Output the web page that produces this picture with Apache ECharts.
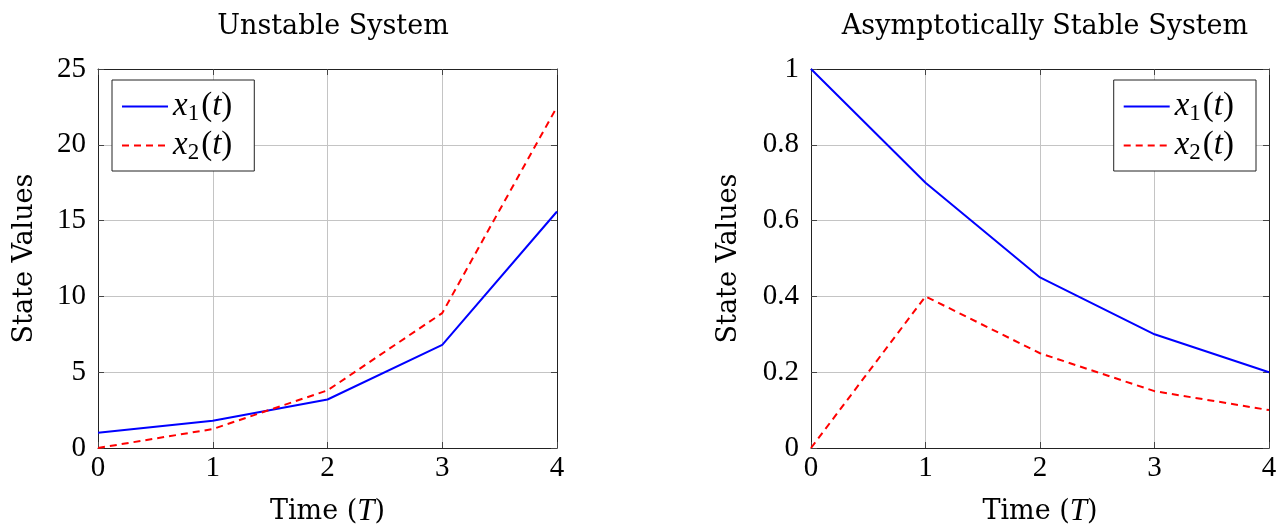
<!DOCTYPE html>
<html>
<head>
<meta charset="utf-8">
<script src="https://cdn.jsdelivr.net/npm/echarts@6/dist/echarts.min.js"></script>
<style>
  html, body { margin: 0; padding: 0; background: #fff; }
  #chart { width: 1287px; height: 532px; }
</style>
</head>
<body>
<div id="chart"></div>
<script>
// time steps
var timeSteps = [0, 1, 2, 3, 4];
// unstable system
var unstableX1 = [1.0, 1.8, 3.2, 6.8, 15.6];
var unstableX2 = [0.0, 1.25, 3.8, 8.9, 22.5];
// asymptotically stable system
var stableX1 = [1.0, 0.7, 0.45, 0.3, 0.2];
var stableX2 = [0.0, 0.4, 0.25, 0.15, 0.1];

var titles = ['Unstable System', 'Asymptotically Stable System'];

var TEXT_FONT = 'DejaVu Serif';
var NUM_FONT = 'Liberation Serif';

function pairs(xs, ys) {
    var out = [];
    for (var i = 0; i < xs.length; i++) out.push([xs[i], ys[i]]);
    return out;
}

var rich = {
    it: { fontFamily: NUM_FONT, fontStyle: 'italic', fontSize: 33, color: '#000', lineHeight: 34 },
    n: { fontFamily: NUM_FONT, fontSize: 33, color: '#000', lineHeight: 34 },
    sub: { fontFamily: NUM_FONT, fontSize: 23, color: '#000', lineHeight: 20, padding: [14, 2, 0, 0] },
    tn: { fontFamily: TEXT_FONT, fontSize: 27, color: '#000' },
    ti: { fontFamily: NUM_FONT, fontStyle: 'italic', fontSize: 31, color: '#000' }
};

var grids = [
    { left: 98, top: 69, width: 459, height: 379, outerBoundsMode: 'none', containLabel: false },
    { left: 811, top: 69, width: 458, height: 379, outerBoundsMode: 'none', containLabel: false }
];

function xAx(idx, top) {
    return {
        type: 'value', gridIndex: idx, min: 0, max: 4, interval: 1,
        position: top ? 'top' : 'bottom',
        name: top ? '' : '{tn|Time (}{ti|T}{tn|)}',
        nameLocation: 'middle', nameGap: 48,
        nameTextStyle: { rich: rich },
        axisLine: { show: true, onZero: false, lineStyle: { color: '#222', width: 1 } },
        axisTick: { show: true, inside: true, length: 6, lineStyle: { color: '#444' } },
        axisLabel: { show: !top, color: '#000', fontFamily: NUM_FONT, fontSize: 29, margin: 6 },
        splitLine: { show: !top, lineStyle: { color: '#c4c4c4', width: 1 } }
    };
}

function yAx(idx, max, interval, right, gap) {
    return {
        type: 'value', gridIndex: idx, min: 0, max: max, interval: interval,
        position: right ? 'right' : 'left',
        name: right ? '' : 'State Values',
        nameLocation: 'middle', nameGap: gap,
        nameTextStyle: { color: '#000', fontFamily: TEXT_FONT, fontSize: 27 },
        axisLine: { show: true, onZero: false, lineStyle: { color: '#222', width: 1 } },
        axisTick: { show: true, inside: true, length: 6, lineStyle: { color: '#444' } },
        axisLabel: { show: !right, color: '#000', fontFamily: NUM_FONT, fontSize: 29, margin: 12 },
        splitLine: { show: !right, lineStyle: { color: '#c4c4c4', width: 1 } }
    };
}

function lineSeries(name, idx, data, dashed) {
    return {
        name: name, type: 'line', xAxisIndex: idx * 2, yAxisIndex: idx * 2,
        data: data, symbol: 'none', animation: false,
        lineStyle: {
            color: dashed ? '#ff0000' : '#0000ff', width: 2,
            type: dashed ? [7, 5] : 'solid'
        },
        itemStyle: { color: dashed ? '#ff0000' : '#0000ff' }
    };
}

function legendLabel(name) {
    return name.trim() === 'x1' ? '{it|x}{sub|1}{n|(}{it|t}{n|)}' : '{it|x}{sub|2}{n|(}{it|t}{n|)}';
}

function legend(pos) {
    return Object.assign({
        orient: 'vertical', top: 80,
        backgroundColor: '#fff', borderColor: '#222', borderWidth: 1,
        padding: [8, 22, 7, 9], itemGap: 2, itemWidth: 46, itemHeight: 14,
        itemStyle: { opacity: 0 },
        textStyle: { rich: rich, fontFamily: NUM_FONT, fontSize: 33 },
        formatter: legendLabel
    }, pos);
}

var myChart = echarts.init(document.getElementById('chart'));
var option = {
    animation: false,
    title: [
        { text: titles[0], left: 328, top: 8, textAlign: 'center',
          textStyle: { fontFamily: TEXT_FONT, fontSize: 27, fontWeight: 'normal', color: '#000' } },
        { text: titles[1], left: 1040, top: 8, textAlign: 'center',
          textStyle: { fontFamily: TEXT_FONT, fontSize: 27, fontWeight: 'normal', color: '#000' } }
    ],
    grid: grids,
    xAxis: [xAx(0, false), xAx(0, true), xAx(1, false), xAx(1, true)],
    yAxis: [yAx(0, 25, 5, false, 60), yAx(0, 25, 5, true, 0),
            yAx(1, 1, 0.2, false, 69), yAx(1, 1, 0.2, true, 0)],
    legend: [
        legend({ left: 112, data: ['x1', 'x2'] }),
        legend({ right: 31, data: ['x1 ', 'x2 '] })
    ],
    series: [
        lineSeries('x1', 0, pairs(timeSteps, unstableX1), false),
        lineSeries('x2', 0, pairs(timeSteps, unstableX2), true),
        lineSeries('x1 ', 1, pairs(timeSteps, stableX1), false),
        lineSeries('x2 ', 1, pairs(timeSteps, stableX2), true)
    ]
};
myChart.setOption(option);
</script>
</body>
</html>
